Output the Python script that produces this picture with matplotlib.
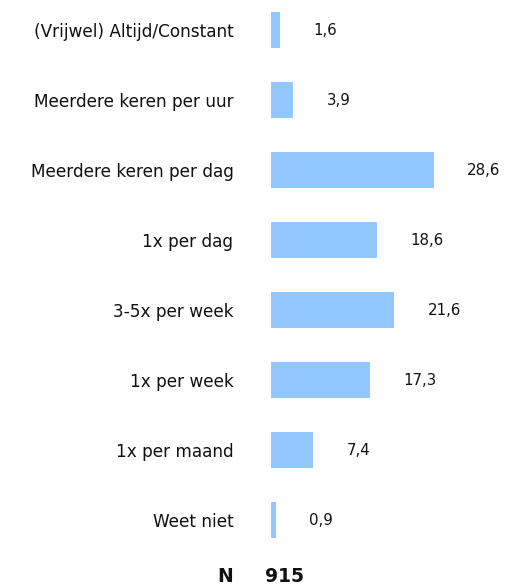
import matplotlib
matplotlib.use("Agg")
import matplotlib.pyplot as plt

categories = [
    "(Vrijwel) Altijd/Constant",
    "Meerdere keren per uur",
    "Meerdere keren per dag",
    "1x per dag",
    "3-5x per week",
    "1x per week",
    "1x per maand",
    "Weet niet",
]
values = [1.6, 3.9, 28.6, 18.6, 21.6, 17.3, 7.4, 0.9]
n_label = "N"
n_value = "915"

W, H = 509, 584
fig = plt.figure(figsize=(W / 100, H / 100), dpi=100)
ax = fig.add_axes([271 / W, (H - 555) / H, 228 / W, 555 / H])

pos = list(range(len(categories)))
ax.barh(pos, values, height=0.52, color="#92c8ff")
ax.set_xlim(0, 40)
ax.set_ylim(7.5, -30 / 70)

for p, v in zip(pos, values):
    ax.annotate(f"{v:.1f}".replace(".", ","), (v, p), xytext=(24, 0),
                textcoords="offset points", va="center", ha="left",
                fontsize=10.8, color="#111111")

ax.set_yticks(pos)
ax.set_yticklabels(categories, fontsize=12.2, color="#111111")
ax.tick_params(axis="y", length=0, pad=27)
ax.set_xticks([])
for s in ax.spines.values():
    s.set_visible(False)

fig.text(225 / W, 1 - 576 / H, n_label, ha="center", va="center",
         fontsize=13.5, fontweight="bold", color="#111111")
fig.text(284 / W, 1 - 576 / H, n_value, ha="center", va="center",
         fontsize=13.5, fontweight="bold", color="#111111")

fig.savefig("out.png", dpi=100)
